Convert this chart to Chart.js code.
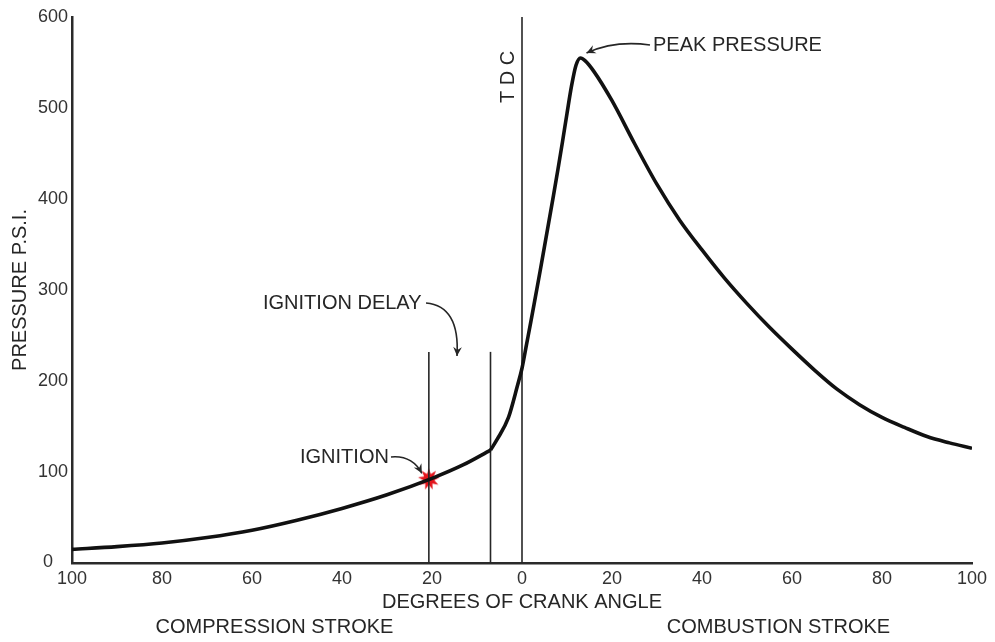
<!DOCTYPE html>
<html>
<head>
<meta charset="utf-8">
<script src="https://cdn.jsdelivr.net/npm/chart.js@4.4.1/dist/chart.umd.min.js"></script>
<style>
  body { margin: 0; background: #fff; }
  canvas { display: block; }
</style>
</head>
<body>
<canvas id="pressureChart" width="995" height="642"></canvas>
<script>
// crank angle (negative = before TDC) and cylinder pressure
const angles = [-100, -90, -80, -70, -60, -50, -40, -30, -20, -13, -7,
  -5.5, -3, -1, 0, 1, 2, 3, 4, 5, 6, 7, 8, 9, 10, 11, 12, 13, 14, 16,
  20, 25, 30, 35, 40, 45, 50, 55, 60, 65, 70, 75, 80, 85, 90, 95, 100];
const pressure = [15, 18, 22, 28, 36, 47, 60, 75, 93, 108, 124,
  136, 160, 195, 214, 240, 266, 293, 320, 348, 376, 404, 433, 463, 494, 524, 547, 555, 552, 540,
  508, 461, 416, 377, 344, 313, 285, 259, 235, 212, 191, 174, 160, 149, 139, 132, 126];
const kinkIndex = 10; // end of ignition delay

// vertical marker lines: ignition, end of delay, TDC
const markerAngles = [-20.7, -7, 0];
const markerTops = [232, 232, 600];

const ignitionPoint = { x: -20.7, y: 92 };
const peakPoint = { x: 13, y: 555 };

const yTicks = [0, 100, 200, 300, 400, 500, 600];
const xTickStep = 20;

const ink = '#262626';
const fontFamily = '"Liberation Sans", Arial, Helvetica, sans-serif';

function toPoints(xs, ys) {
  return xs.map((v, i) => ({ x: v, y: ys[i] }));
}

// red starburst for the ignition point
function makeStar() {
  const c = document.createElement('canvas');
  c.width = 24; c.height = 24;
  const g = c.getContext('2d');
  g.fillStyle = '#e3141b';
  g.beginPath();
  const n = 9;
  for (let i = 0; i < n * 2; i++) {
    const r = i % 2 === 0 ? 11 : 5.5;
    const a = (Math.PI * i) / n - Math.PI / 2;
    const px = 12 + r * Math.cos(a), py = 12 + r * Math.sin(a);
    i === 0 ? g.moveTo(px, py) : g.lineTo(px, py);
  }
  g.closePath();
  g.fill();
  return c;
}

function arrow(ctx, x0, y0, cx, cy, x1, y1) {
  ctx.beginPath();
  ctx.moveTo(x0, y0);
  ctx.quadraticCurveTo(cx, cy, x1, y1);
  ctx.stroke();
  const a = Math.atan2(y1 - cy, x1 - cx);
  const len = 10;
  ctx.beginPath();
  ctx.moveTo(x1, y1);
  ctx.lineTo(x1 - len * Math.cos(a - 0.45), y1 - len * Math.sin(a - 0.45));
  ctx.lineTo(x1 - len * 0.6 * Math.cos(a), y1 - len * 0.6 * Math.sin(a));
  ctx.lineTo(x1 - len * Math.cos(a + 0.45), y1 - len * Math.sin(a + 0.45));
  ctx.closePath();
  ctx.fill();
}

const annotations = {
  id: 'annotations',
  afterDraw(chart) {
    const { ctx, scales: { x, y } } = chart;
    ctx.save();
    ctx.fillStyle = ink;
    ctx.strokeStyle = ink;
    ctx.lineWidth = 1.6;
    ctx.font = '20px ' + fontFamily;
    ctx.textBaseline = 'middle';

    // peak pressure
    const pkx = x.getPixelForValue(peakPoint.x), pky = y.getPixelForValue(peakPoint.y);
    ctx.textAlign = 'left';
    ctx.fillText('PEAK PRESSURE', 653, 45);
    arrow(ctx, 650, 45, 615, 40, pkx + 6, pky - 5);

    // ignition delay
    ctx.fillText('IGNITION DELAY', 263, 303);
    arrow(ctx, 426, 303, 460, 306, 457, 356);

    // ignition
    const igx = x.getPixelForValue(ignitionPoint.x), igy = y.getPixelForValue(ignitionPoint.y);
    ctx.fillText('IGNITION', 300, 457);
    arrow(ctx, 391, 457, 412, 455, igx - 7, igy - 6);

    // TDC
    ctx.save();
    ctx.translate(x.getPixelForValue(0) - 14, 77);
    ctx.rotate(-Math.PI / 2);
    ctx.textAlign = 'center';
    ctx.fillText('T D C', 0, 0);
    ctx.restore();

    // stroke names under the axis title
    ctx.textAlign = 'center';
    ctx.fillText('COMPRESSION STROKE', x.getPixelForValue(-55), 627);
    ctx.fillText('COMBUSTION STROKE', x.getPixelForValue(57), 627);

    // zero of the y axis, set off to the left of the x labels
    ctx.font = '18px ' + fontFamily;
    ctx.fillStyle = '#333';
    ctx.fillText('0', 48, y.getPixelForValue(0) - 1);
    ctx.restore();
  }
};

const lineSet = (data, width) => ({
  data, showLine: true, borderColor: ink, borderWidth: width,
  pointRadius: 0, fill: false
});

const curveStyle = { cubicInterpolationMode: 'monotone', tension: 0.4, borderColor: '#111' };
const datasets = [
  { ...lineSet(toPoints(angles.slice(0, kinkIndex + 1), pressure.slice(0, kinkIndex + 1)), 3.6), ...curveStyle },
  { ...lineSet(toPoints(angles.slice(kinkIndex), pressure.slice(kinkIndex)), 3.6), ...curveStyle }
];
markerAngles.forEach((a, i) => {
  datasets.push(lineSet([{ x: a, y: 0 }, { x: a, y: markerTops[i] }], 1.6));
});
datasets.push({
  data: [ignitionPoint], pointStyle: makeStar(), pointRadius: 11, showLine: false
});

new Chart(document.getElementById('pressureChart'), {
  type: 'scatter',
  data: { datasets },
  options: {
    responsive: false,
    devicePixelRatio: 1,
    animation: false,
    layout: { padding: { top: 17, right: 23, left: 0, bottom: 0 } },
    plugins: { legend: { display: false }, tooltip: { enabled: false } },
    scales: {
      x: {
        type: 'linear',
        min: -100, max: 100,
        afterFit(scale) { scale.height = 79; },
        grid: { display: false, drawTicks: false },
        border: { display: true, color: '#2a2a2a', width: 2.5 },
        ticks: {
          stepSize: xTickStep,
          padding: 5,
          color: '#333',
          font: { size: 18, family: fontFamily },
          callback: v => Math.abs(v)
        },
        title: {
          display: true,
          text: 'DEGREES OF CRANK ANGLE',
          color: ink,
          font: { size: 20, family: fontFamily },
          padding: { top: 0, bottom: 28 }
        }
      },
      y: {
        min: 0, max: 600,
        afterFit(scale) { scale.width = 72; },
        afterBuildTicks(scale) { scale.ticks = yTicks.map(v => ({ value: v })); },
        grid: { display: false, drawTicks: false },
        border: { display: true, color: '#2a2a2a', width: 2.5 },
        ticks: {
          padding: 4,
          color: '#333',
          font: { size: 18, family: fontFamily },
          callback: v => (v === 0 ? '' : v)
        },
        title: {
          display: true,
          text: 'PRESSURE P.S.I.',
          color: ink,
          font: { size: 20, family: fontFamily },
          padding: { top: 8, bottom: 0 }
        }
      }
    }
  },
  plugins: [annotations]
});
</script>
</body>
</html>
